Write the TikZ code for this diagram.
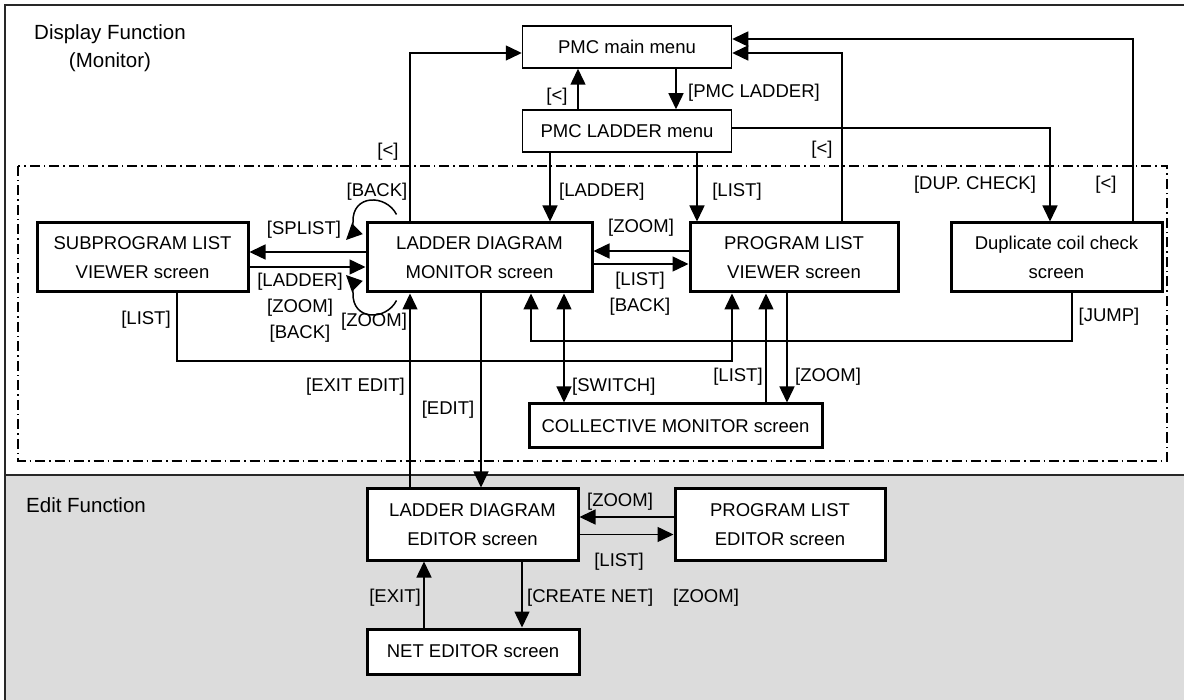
\documentclass[tikz,border=0pt]{standalone}
\usepackage{fontspec}
\setmainfont{Liberation Sans}
\usetikzlibrary{arrows.meta}
\definecolor{editgray}{RGB}{220,220,220}
\definecolor{framegray}{RGB}{40,40,40}
\begin{document}
\begin{tikzpicture}[x=1pt,y=-1pt,
  every node/.style={font=\fontsize{18.5}{29}\selectfont, inner sep=0pt},
  screenbox/.style={draw, line width=3pt, fill=white, align=center},
  menubox/.style={draw, line width=1.5pt, fill=white, align=center},
  arr/.style={line width=1.5pt, -{Triangle[length=16pt,width=15pt]}},
  darr/.style={line width=1.5pt, {Triangle[length=16pt,width=15pt]}-{Triangle[length=16pt,width=15pt]}},
  lbl/.style={font=\fontsize{18.5}{26}\selectfont, align=center},
  sectitle/.style={font=\fontsize{20.5}{28}\selectfont, align=center},
  dashdotline/.style={line width=1.2pt, dash pattern=on 10pt off 4pt on 1.5pt off 4pt}]

\clip (0,0) rectangle (1184,700);
\fill[white] (0,0) rectangle (1184,700);
\fill[editgray] (5,475) rectangle (1195,710);
\draw[line width=1.5pt, framegray] (5,710) -- (5,5) -- (1195,5);
\draw[line width=1.5pt, framegray] (5,475) -- (1195,475);
\draw[dashdotline] (18,166) rectangle (1167,461);

% titles
\node[sectitle] (tdisp) at (110,48) {Display Function\\(Monitor)};
\node[sectitle, anchor=west] (tedit) at (26,505) {Edit Function};

% boxes
\node[menubox, minimum width=209, minimum height=42] (pmcmain) at (627,47) {PMC main menu};
\node[menubox, minimum width=209, minimum height=42] (pmcladder) at (627,131) {PMC LADDER menu};
\node[screenbox, minimum width=211, minimum height=69] (sub) at (142.5,257.5) {SUBPROGRAM LIST\\VIEWER screen};
\node[screenbox, minimum width=225, minimum height=69] (ldm) at (479.5,257.5) {LADDER DIAGRAM\\MONITOR screen};
\node[screenbox, minimum width=208, minimum height=69] (plv) at (794,257.5) {PROGRAM LIST\\VIEWER screen};
\node[screenbox, minimum width=211, minimum height=69] (dup) at (1056.5,257.5) {Duplicate coil check\\screen};
\node[screenbox, minimum width=293, minimum height=44] (coll) at (675.5,426) {COLLECTIVE MONITOR screen};
\node[screenbox, minimum width=211, minimum height=71] (lde) at (472.5,524.5) {LADDER DIAGRAM\\EDITOR screen};
\node[screenbox, minimum width=210, minimum height=71] (ple) at (780,524.5) {PROGRAM LIST\\EDITOR screen};
\node[screenbox, minimum width=212, minimum height=45] (net) at (473,651.5) {NET EDITOR screen};

% lane coordinates
\coordinate (xA) at (410,0);
\coordinate (xB) at (578,0);
\coordinate (xC) at (676,0);
\coordinate (xD) at (842,0);
\coordinate (xE) at (1133,0);
\coordinate (xF) at (1050,0);
\coordinate (xG) at (550,0);
\coordinate (xH) at (697,0);
\coordinate (xI) at (481,0);
\coordinate (xJ) at (1072,0);
\coordinate (yJ) at (0,341);
\coordinate (xK) at (531,0);
\coordinate (xL) at (564,0);
\coordinate (xM) at (177,0);
\coordinate (yM) at (0,361);
\coordinate (xN) at (732,0);
\coordinate (xO) at (766,0);
\coordinate (xP) at (787,0);
\coordinate (xQ) at (522,0);
\coordinate (xR) at (424,0);

% upper connectors
\draw[arr] (ldm.north -| xA) |- ([yshift=-6pt]pmcmain.west);
\node[lbl] (l1) at (388,152) {[<]};
\draw[arr] (pmcladder.north -| xB) -- (pmcmain.south -| xB);
\node[lbl] (l2) at (557,97) {[<]};
\draw[arr] (pmcmain.south -| xC) -- (pmcladder.north -| xC);
\node[lbl, anchor=west] (l3) at (688,93) {[PMC LADDER]};
\draw[arr] (plv.north -| xD) |- ([yshift=-6pt]pmcmain.east);
\node[lbl] (l4) at (822,150) {[<]};
\draw[arr] (dup.north -| xE) |- ([yshift=8pt]pmcmain.east);
\node[lbl] (l5) at (1106,185) {[<]};
\draw[arr] ([yshift=3pt]pmcladder.east) -| (dup.north -| xF);
\node[lbl] (l6) at (975,185) {[DUP. CHECK]};
\draw[arr] (pmcladder.south -| xG) -- (ldm.north -| xG);
\node[lbl, anchor=west] (l7) at (559,192) {[LADDER]};
\draw[arr] (pmcladder.south -| xH) -- (plv.north -| xH);
\node[lbl] (l8) at (737,192) {[LIST]};

% SUB <-> LDM
\draw[arr] ([yshift=5.5pt]ldm.west) -- ([yshift=5.5pt]sub.east);
\node[lbl] (l9) at (304,230) {[SPLIST]};
\draw[arr] ([yshift=-9.5pt]sub.east) -- ([yshift=-9.5pt]ldm.west);
\node[lbl] (l10) at (300,308) {[LADDER]\\{}[ZOOM]\\{}[BACK]};

% self loops
\draw[arr] ([shift={(31,-7)}]ldm.north west) .. controls (386,194) and (352,194) .. (353,222) .. controls (353,229) and (352,234) .. (346,240);
\node[lbl] (l11) at (377,192) {[BACK]};
\draw[arr] ([shift={(31,7)}]ldm.south west) .. controls (386,321) and (352,321) .. (353,293) .. controls (353,286) and (352,281) .. (346,275);
\node[lbl] (l12) at (374,322) {[ZOOM]};

% LDM <-> PLV
\draw[arr] ([yshift=6.5pt]plv.west) -- ([yshift=6.5pt]ldm.east);
\node[lbl] (l13) at (641,228) {[ZOOM]};
\draw[arr] ([yshift=-6.5pt]ldm.east) -- ([yshift=-6.5pt]plv.west);
\node[lbl] (l14) at (640,294) {[LIST]\\{}[BACK]};

% lower monitor connectors
\draw[arr] (lde.north -| xA) -- (ldm.south -| xA);
\node[lbl, anchor=east] (l15) at (405,387) {[EXIT EDIT]};
\draw[arr] (ldm.south -| xI) -- (lde.north -| xI);
\node[lbl] (l16) at (448,410) {[EDIT]};
\draw[arr] (dup.south -| xJ) -- (xJ |- yJ) -- (xK |- yJ) -- (ldm.south -| xK);
\node[lbl] (l17) at (1109,317) {[JUMP]};
\draw[darr] (ldm.south -| xL) -- (coll.north -| xL);
\node[lbl, anchor=west] (l18) at (572,387) {[SWITCH]};
\draw[arr] (sub.south -| xM) -- (xM |- yM) -- (xN |- yM) -- (plv.south -| xN);
\node[lbl] (l19) at (146,320) {[LIST]};
\draw[arr] (coll.north -| xO) -- (plv.south -| xO);
\node[lbl] (l20) at (738,377) {[LIST]};
\draw[arr] (plv.south -| xP) -- (coll.north -| xP);
\node[lbl] (l21) at (828,377) {[ZOOM]};

% edit connectors
\draw[arr] ([yshift=7.5pt]ple.west) -- ([yshift=7.5pt]lde.east);
\node[lbl] (l22) at (620,502) {[ZOOM]};
\draw[arr] ([yshift=-10pt]lde.east) -- ([yshift=-10pt]ple.west);
\node[lbl] (l23) at (619,562) {[LIST]};
\draw[arr] (lde.south -| xQ) -- (net.north -| xQ);
\node[lbl, anchor=west] (l24) at (527,598) {[CREATE NET]};
\draw[arr] (net.north -| xR) -- (lde.south -| xR);
\node[lbl] (l25) at (395,598) {[EXIT]};
\node[lbl] (l26) at (706,598) {[ZOOM]};
\end{tikzpicture}
\end{document}
